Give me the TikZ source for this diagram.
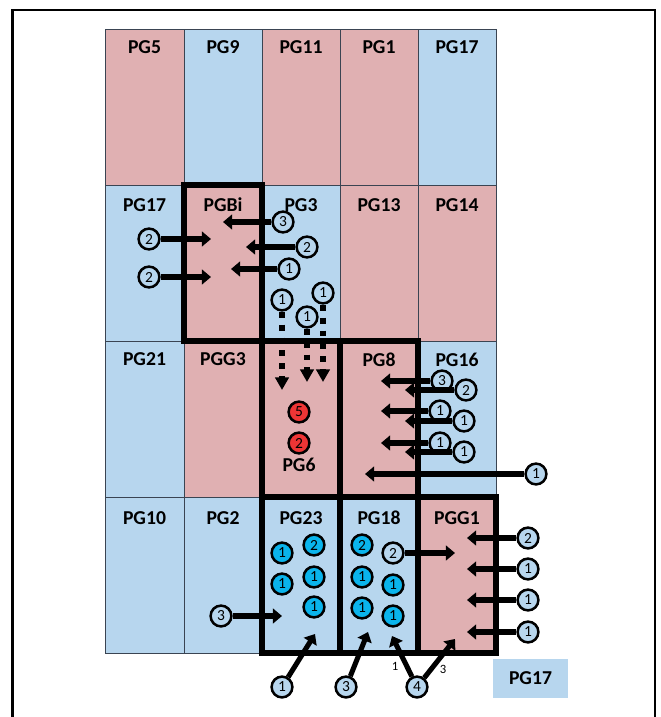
\documentclass[tikz,border=0pt]{standalone}
\usepackage{fontspec}
\setmainfont{Carlito}
\usetikzlibrary{arrows.meta}
\definecolor{pgpink}{HTML}{E0B0B2}
\definecolor{pgblue}{HTML}{B7D6EE}
\definecolor{pgcyan}{HTML}{0AB4EC}
\definecolor{pgred}{HTML}{EE3535}
\definecolor{gridline}{HTML}{3A4452}
\begin{document}
\begin{tikzpicture}[x=0.025cm,y=-0.025cm,
  cell/.style={draw=gridline,line width=0.6pt},
  lbl/.style={font=\bfseries\fontsize{14}{16}\selectfont,inner sep=0pt},
  box/.style={line width=4pt},
  num/.style={circle,draw,line width=1.8pt,fill=pgblue,minimum size=0.52cm,inner sep=0pt,font=\fontsize{11}{12}\selectfont},
  hot/.style={num,fill=pgcyan},
  warm/.style={num,fill=pgred},
  arr/.style={line width=3.6pt,-{Triangle[length=6.5pt,width=10.5pt]}},
  dotarr/.style={line width=4.2pt,dash pattern=on 4.2pt off 5pt,-{Triangle[length=9pt,width=9.5pt]}},
  tag/.style={font=\fontsize{9}{10}\selectfont,inner sep=0pt}]
  \useasboundingbox (0,0) rectangle (660,717);
  % frame
  \draw[line width=1.6pt] (12.5,717) -- (12.5,10) -- (655,10) -- (655,717);
  % row 1
  \draw[cell,fill=pgpink] (105,29) rectangle (184,185);
  \draw[cell,fill=pgblue] (184,29) rectangle (262,185);
  \draw[cell,fill=pgpink] (262,29) rectangle (340,185);
  \draw[cell,fill=pgpink] (340,29) rectangle (418,185);
  \draw[cell,fill=pgblue] (418,29) rectangle (496,185);
  % row 2
  \draw[cell,fill=pgblue] (105,185) rectangle (184,341);
  \draw[cell,fill=pgpink] (184,185) rectangle (262,341);
  \draw[cell,fill=pgblue] (262,185) rectangle (340,341);
  \draw[cell,fill=pgpink] (340,185) rectangle (418,341);
  \draw[cell,fill=pgpink] (418,185) rectangle (496,341);
  % row 3
  \draw[cell,fill=pgblue] (105,341) rectangle (184,497);
  \draw[cell,fill=pgpink] (184,341) rectangle (262,497);
  \draw[cell,fill=pgpink] (262,341) rectangle (340,497);
  \draw[cell,fill=pgpink] (340,341) rectangle (418,497);
  \draw[cell,fill=pgblue] (418,341) rectangle (496,497);
  % row 4
  \draw[cell,fill=pgblue] (105,497) rectangle (184,653);
  \draw[cell,fill=pgblue] (184,497) rectangle (262,653);
  \draw[cell,fill=pgblue] (262,497) rectangle (340,653);
  \draw[cell,fill=pgblue] (340,497) rectangle (418,653);
  \draw[cell,fill=pgpink] (418,497) rectangle (496,653);
  % labels
  \node[lbl] (pg5) at (144.5,47) {PG5};
  \node[lbl] (pg9) at (223,47) {PG9};
  \node[lbl] (pg11) at (301,47) {PG11};
  \node[lbl] (pg1) at (379,47) {PG1};
  \node[lbl] (pg17a) at (457,47) {PG17};
  \node[lbl] (pg17b) at (144.5,205) {PG17};
  \node[lbl] (pgbi) at (223,205) {PGBi};
  \node[lbl] (pg3) at (301,205) {PG3};
  \node[lbl] (pg13) at (379,205) {PG13};
  \node[lbl] (pg14) at (457,205) {PG14};
  \node[lbl] (pg21) at (144.5,359) {PG21};
  \node[lbl] (pgg3) at (223,359) {PGG3};
  \node[lbl] (pg6) at (299,465) {PG6};
  \node[lbl] (pg8) at (379,360) {PG8};
  \node[lbl] (pg16) at (457,360) {PG16};
  \node[lbl] (pg10) at (144.5,518) {PG10};
  \node[lbl] (pg2) at (223,518) {PG2};
  \node[lbl] (pg23) at (301,518) {PG23};
  \node[lbl] (pg18) at (379,518) {PG18};
  \node[lbl] (pgg1) at (457,518) {PGG1};
  \node[lbl,fill=pgblue,minimum width=1.875cm,minimum height=0.975cm] (legend) at (530.5,678.5) {PG17};
  % thick boxes
  \draw[box] (184,185) rectangle (262,341);
  \draw[box] (262,341) rectangle (340,497);
  \draw[box] (340,341) rectangle (418,497);
  \draw[box] (262,497) rectangle (340,653);
  \draw[box] (340,497) rectangle (418,653);
  \draw[box] (418,497) rectangle (496,653);
  % into PGBi
  \node[num] (b1) at (149,239) {2};
  \node[num] (b2) at (149,277) {2};
  \node[num] (b3) at (283,222) {3};
  \node[num] (b4) at (307,247) {2};
  \node[num] (b5) at (289,269) {1};
  \coordinate (bt1) at (211,239);
  \coordinate (bt2) at (211,277);
  \coordinate (bt3) at (223,222);
  \coordinate (bt4) at (246,247);
  \coordinate (bt5) at (231,269);
  \draw[arr] (b1) -- (bt1);
  \draw[arr] (b2) -- (bt2);
  \draw[arr] (b3) -- (bt3);
  \draw[arr] (b4) -- (bt4);
  \draw[arr] (b5) -- (bt5);
  % PG3 down to PG6
  \node[num] (d1) at (282,300) {1};
  \node[num] (d2) at (307,317) {1};
  \node[num] (d3) at (323,293) {1};
  \coordinate (dt1) at (282,390);
  \coordinate (dt2) at (307,382);
  \coordinate (dt3) at (323,382);
  \draw[dotarr] (d1) -- (dt1);
  \draw[dotarr] (d2) -- (dt2);
  \draw[dotarr] (d3) -- (dt3);
  % PG6
  \node[warm] (r1) at (299,412) {5};
  \node[warm] (r2) at (299,443) {2};
  % into PG8
  \node[num] (c2) at (466,390) {2};
  \node[num] (c1) at (442,381) {3};
  \node[num] (c4) at (464,421) {1};
  \node[num] (c3) at (440,411) {1};
  \node[num] (c6) at (464,452) {1};
  \node[num] (c5) at (440,443) {1};
  \node[num] (c7) at (536,474) {1};
  \coordinate (ct1) at (381,381);
  \coordinate (ct2) at (405,390);
  \coordinate (ct3) at (381,411);
  \coordinate (ct4) at (405,421);
  \coordinate (ct5) at (381,443);
  \coordinate (ct6) at (405,452);
  \coordinate (ct7) at (365,474);
  \draw[arr] (c1) -- (ct1);
  \draw[arr] (c2) -- (ct2);
  \draw[arr] (c3) -- (ct3);
  \draw[arr] (c4) -- (ct4);
  \draw[arr] (c5) -- (ct5);
  \draw[arr] (c6) -- (ct6);
  \draw[arr] (c7) -- (ct7);
  % PG23
  \node[hot] (h1) at (282,553) {1};
  \node[hot] (h2) at (314,545) {2};
  \node[hot] (h3) at (282,584) {1};
  \node[hot] (h4) at (314,577) {1};
  \node[hot] (h5) at (314,607) {1};
  % PG18
  \node[hot] (k1) at (362,545) {2};
  \node[hot] (k2) at (362,577) {1};
  \node[hot] (k3) at (362,608) {1};
  \node[hot] (k4) at (393,585) {1};
  \node[hot] (k5) at (393,616) {1};
  % into PGG1
  \node[num] (g1) at (528,538) {2};
  \node[num] (g2) at (528,569) {1};
  \node[num] (g3) at (528,600) {1};
  \node[num] (g4) at (528,632) {1};
  \node[num] (g5) at (393,553) {2};
  \coordinate (gt1) at (467,538);
  \coordinate (gt2) at (467,569);
  \coordinate (gt3) at (467,600);
  \coordinate (gt4) at (467,632);
  \coordinate (gt5) at (455,553);
  \draw[arr] (g1) -- (gt1);
  \draw[arr] (g2) -- (gt2);
  \draw[arr] (g3) -- (gt3);
  \draw[arr] (g4) -- (gt4);
  \draw[arr] (g5) -- (gt5);
  % into PG23, PG18 from outside
  \node[num] (e0) at (221,616) {3};
  \node[num] (e1) at (282,687) {1};
  \node[num] (e2) at (346,687) {3};
  \node[num] (e3) at (417,687) {4};
  \coordinate (et0) at (282,616);
  \coordinate (et1) at (315,634);
  \coordinate (et2) at (368,632);
  \coordinate (et3) at (392,636);
  \coordinate (et4) at (455,639);
  \draw[arr] (e0) -- (et0);
  \draw[arr] (e1) -- (et1);
  \draw[arr] (e2) -- (et2);
  \draw[arr] (e3) -- (et3);
  \draw[arr] (e3) -- (et4);
  \node[tag] (split1) at (395,666) {1};
  \node[tag] (split3) at (443,669) {3};
\end{tikzpicture}
\end{document}
